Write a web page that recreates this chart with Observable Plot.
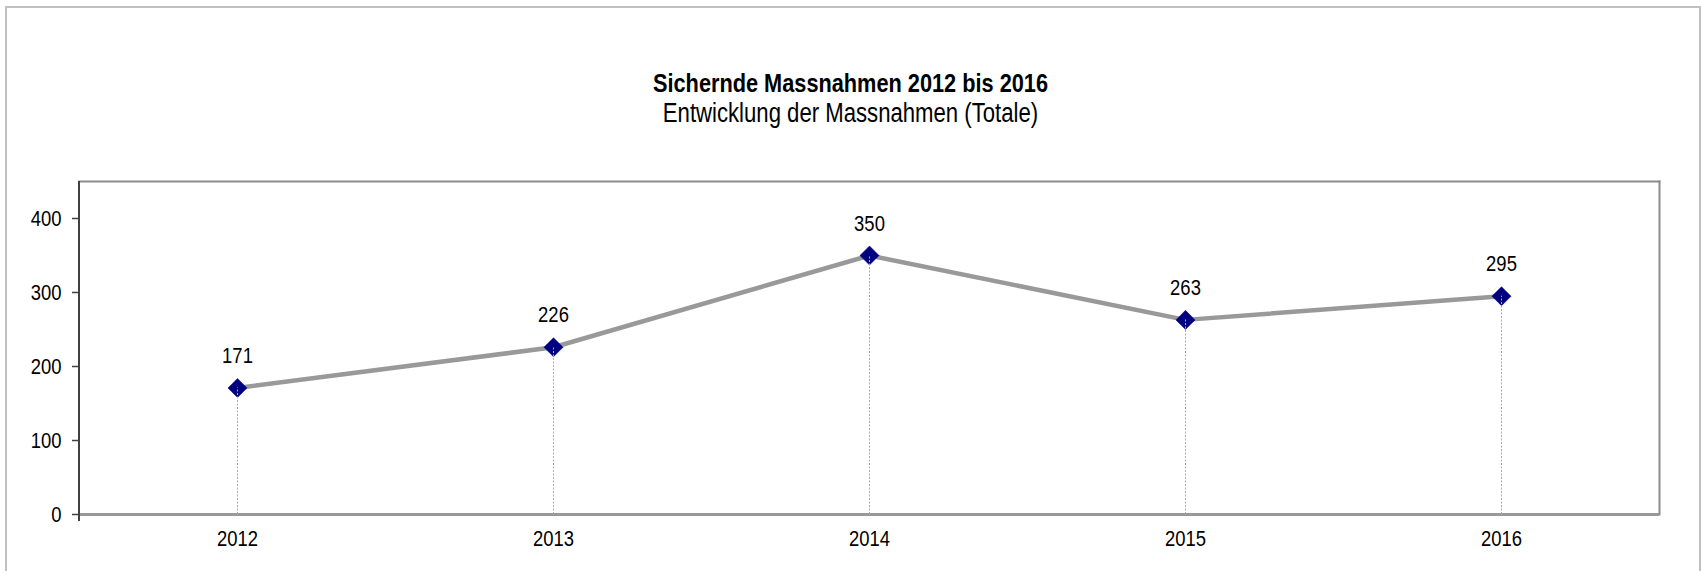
<!DOCTYPE html>
<html>
<head>
<meta charset="utf-8">
<script src="https://cdn.jsdelivr.net/npm/d3@7"></script>
<script src="https://cdn.jsdelivr.net/npm/@observablehq/plot@0.6"></script>
<style>
  html, body { margin: 0; padding: 0; background: #fff; }
  body { width: 1701px; height: 571px; position: relative; overflow: hidden;
         font-family: "Liberation Sans", Arial, sans-serif; }
  #outer { position: absolute; left: 5px; top: 6px; width: 1692px; height: 700px;
           border: 2px solid #c0c0c0; border-bottom: none; }
  .ttl { position: absolute; left: 0; width: 1701px; text-align: center;
         color: #000; line-height: 30px;
         transform: scaleX(0.82); transform-origin: 850.5px 50%; }
  #title { top: 68px; font-weight: bold; font-size: 26.5px; }
  #subtitle { top: 98px; font-size: 27px; }
  #chart { position: absolute; left: 0; top: 150px; }
</style>
</head>
<body>
<div id="outer"></div>
<div id="title" class="ttl">Sichernde Massnahmen 2012 bis 2016</div>
<div id="subtitle" class="ttl">Entwicklung der Massnahmen (Totale)</div>
<div id="chart"></div>
<script>
const years = ["2012", "2013", "2014", "2015", "2016"];
const totals = [171, 226, 350, 263, 295];
const yTicks = [0, 100, 200, 300, 400];

const data = years.map((y, i) => ({year: y, value: totals[i]}));

const chart = Plot.plot({
  width: 1701,
  height: 421,
  marginTop: 31,
  marginBottom: 57,
  marginLeft: 79,
  marginRight: 42,
  style: {fontFamily: '"Liberation Sans", Arial, sans-serif', fontSize: "22.5px", color: "#000", background: "transparent"},
  x: {type: "point", domain: years, padding: 0.5, label: null},
  y: {domain: [0, 450], label: null},
  marks: [
    Plot.frame({anchor: "top", stroke: "#8c8c8c", strokeWidth: 2}),
    Plot.frame({anchor: "right", stroke: "#8c8c8c", strokeWidth: 2}),
    Plot.axisY({ticks: yTicks, tickSize: 7, tickPadding: 11, stroke: "#404040", strokeWidth: 1.5, fontSize: 22.5}),
    Plot.axisX({tickSize: 0, tickPadding: 16, fontSize: 22.5}),
    Plot.ruleY([0], {stroke: "#999", strokeWidth: 3}),
    Plot.line(data, {x: "year", y: "value", stroke: "#999", strokeWidth: 4.5}),
    Plot.dot(data, {x: "year", y: "value", symbol: "diamond2", r: 8.6, fill: "#000080", stroke: "#000080", strokeWidth: 0.5}),
    Plot.ruleX(data, {x: "year", y1: 0, y2: "value", stroke: "#aaaaaa", strokeWidth: 1, strokeDasharray: "2,1.5"}),
    Plot.text(data, {x: "year", y: "value", text: d => String(d.value), dy: -32, fontSize: 22.5, fill: "#000"})
  ]
});

const svg = d3.select(chart);
// narrow the lettering like the original condensed face
svg.selectAll("text").each(function() {
  const t = this.getAttribute("transform") || "";
  this.setAttribute("transform", (t + " scale(0.82,1)").trim());
});
// left axis line extending slightly below the x axis
svg.append("line")
  .attr("x1", 79).attr("x2", 79)
  .attr("y1", 31).attr("y2", 421 - 57 + 7)
  .attr("stroke", "#404040").attr("stroke-width", 2);

document.getElementById("chart").appendChild(chart);
</script>
</body>
</html>
